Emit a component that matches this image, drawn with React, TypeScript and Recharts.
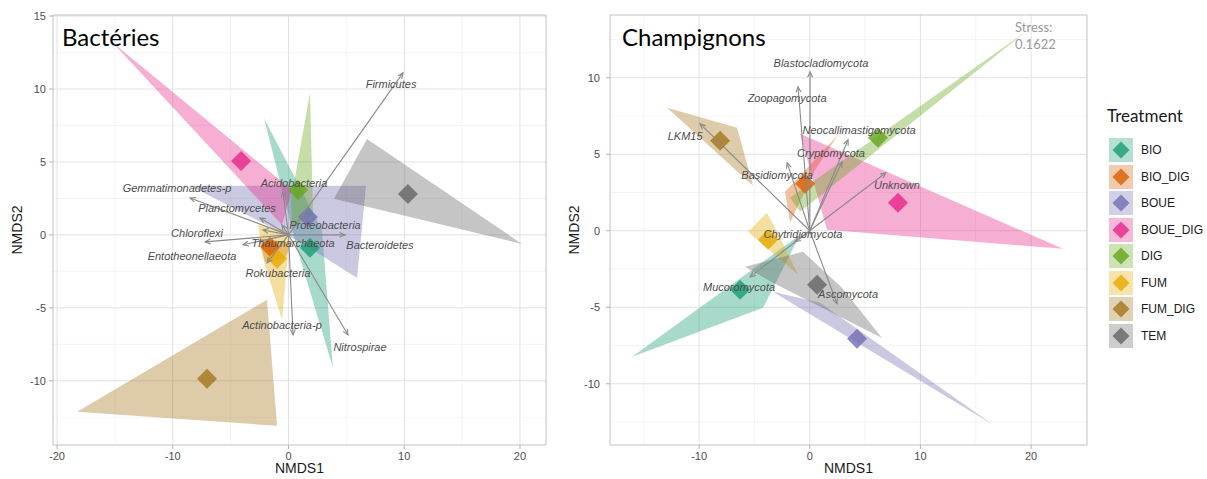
import React from "react";
import {
  ScatterChart,
  Scatter,
  XAxis,
  YAxis,
  CartesianGrid,
  ReferenceArea,
} from "recharts";

type Pt = [number, number];

const treatments = ["BIO", "BIO_DIG", "BOUE", "BOUE_DIG", "DIG", "FUM", "FUM_DIG", "TEM"];
const treatmentColors = ["#1B9E77", "#D95F02", "#7570B3", "#E7298A", "#66A61E", "#E6AB02", "#A6761D", "#666666"];

// Bactéries: hull vertices, in treatment order
const bactHulls: Pt[][] = [
  [[-2.12, 8.01], [2.89, 0.34], [3.84, -9.11], [0.65, -0.68]],
  [[-2.63, -0.21], [0.3, -0.55], [-0.3, -1.58], [-2.03, -1.85]],
  [[-8.51, 3.36], [6.7, 3.36], [5.92, -2.95], [0.99, -0.48]],
  [[-15.16, 13.15], [0.3, 3.08], [-0.56, 0.68]],
  [[1.86, 9.73], [2.12, 1.37], [0.3, 0.48], [0.22, 2.4]],
  [[-2.63, 0.68], [0.13, 0.21], [-0.56, -5.82], [-2.12, -1.85]],
  [[-18.27, -12.12], [-1.86, -4.45], [-0.99, -13.08]],
  [[6.78, 6.58], [20.17, -0.62], [3.93, 2.47]],
];
const bactCentroids: Pt[] = [
  [1.86, -0.89], [-1.6, -0.82], [1.68, 1.23], [-4.1, 5.07],
  [0.82, 3.08], [-0.99, -1.64], [-7.04, -9.86], [10.32, 2.81],
];
const bactTaxa = [
  "Firmicutes", "Acidobacteria", "Gemmatimonadetes-p", "Planctomycetes",
  "Proteobacteria", "Chloroflexi", "Thaumarchaeota", "Bacteroidetes",
  "Entotheonellaeota", "Rokubacteria", "Actinobacteria-p", "Nitrospirae",
];
const bactArrowTips: Pt[] = [
  [9.89, 11.1], [-0.48, 2.95], [-8.51, 2.53], [-2.46, 1.16],
  [-0.56, 0.68], [-7.21, -0.48], [-2.2, 0.34], [4.88, 0],
  [-3.93, -0.68], [-1.86, -1.92], [0.39, -6.85], [5.14, -6.85],
];
const bactLabelPos: Pt[] = [
  [8.86, 10.34], [0.48, 3.56], [-9.63, 3.22], [-4.45, 1.85],
  [3.15, 0.68], [-7.9, 0.14], [0.39, -0.55], [7.9, -0.68],
  [-8.34, -1.44], [-0.91, -2.6], [-0.56, -6.16], [6.18, -7.67],
];

// Champignons
const fungiHulls: Pt[][] = [
  [[-0.88, -0.26], [-4.22, -5.03], [-16.05, -8.24]],
  [[-2.23, 2.55], [2.56, 6.27], [0.48, 3.99], [-1.78, 0.52]],
  [[-3.33, -3.99], [0.93, -4.71], [16.56, -12.68]],
  [[-0.88, 6.34], [22.88, -1.18], [1.56, 0.07]],
  [[-1.78, 2.16], [19.5, 13.0], [-0.88, 1.24]],
  [[-3.88, 1.18], [-2.95, -0.07], [-1.06, -2.88], [-5.57, -0.07]],
  [[-12.89, 8.04], [-6.57, 6.73], [-5.12, 2.94]],
  [[-5.85, -2.35], [-0.61, -1.37], [2.91, -3.73], [6.53, -7.0], [-3.33, -3.4]],
];
const fungiCentroids: Pt[] = [
  [-6.3, -3.86], [-0.42, 3.07], [4.27, -7.06], [7.97, 1.83],
  [6.16, 6.08], [-3.77, -0.59], [-8.1, 5.88], [0.66, -3.53],
];
const fungiTaxa = [
  "Blastocladiomycota", "Zoopagomycota", "LKM15", "Neocallimastigomycota",
  "Cryptomycota", "Basidiomycota", "Unknown", "Chytridiomycota",
  "Mucoromycota", "Ascomycota",
];
const fungiArrowTips: Pt[] = [
  [0.03, 10.39], [-1.06, 9.41], [-9.91, 6.99], [3.46, 5.95],
  [2.92, 4.51], [-2.05, 4.44], [6.88, 3.79], [-1.33, -0.72],
  [-5.39, -3.01], [2.46, -4.77],
];
const fungiLabelPos: Pt[] = [
  [1.01, 10.98], [-2.05, 8.69], [-11.26, 6.21], [4.45, 6.6],
  [1.92, 5.1], [-2.95, 3.66], [7.88, 3.01], [-0.61, -0.2],
  [-6.39, -3.66], [3.46, -4.12],
];

const bactXTicks = [-20, -10, 0, 10, 20];
const bactXMinor = [-15, -5, 5, 15];
const bactYTicks = [-10, -5, 0, 5, 10, 15];
const bactYMinor = [-12.5, -7.5, -2.5, 2.5, 7.5, 12.5];
const fungiXTicks = [-10, 0, 10, 20];
const fungiXMinor = [-15, -5, 5, 15];
const fungiYTicks = [-10, -5, 0, 5, 10];
const fungiYMinor = [-12.5, -7.5, -2.5, 2.5, 7.5, 12.5];

const AXIS_FONT = "'Liberation Sans', Arial, sans-serif";
const TITLE_FONT = "Lato, 'Open Sans', sans-serif";

const toRows = (pts: Pt[]) => pts.map(([x, y]) => ({ x, y }));

const emptyShape = () => <g />;

const polygonLine = (color: string) => (p: any) => {
  const pts = (p.points || []).filter((q: any) => q.x != null && q.y != null);
  if (!pts.length) return <g />;
  const d = pts.map((q: any, i: number) => `${i ? "L" : "M"}${q.x},${q.y}`).join("") + "Z";
  return <path d={d} fill={color} fillOpacity={0.38} stroke="none" />;
};

const arrowLine = (p: any) => {
  const pts = p.points || [];
  if (pts.length < 2) return <g />;
  const a = pts[0];
  const b = pts[1];
  const ang = Math.atan2(b.y - a.y, b.x - a.x);
  const len = 6;
  const spread = 0.42;
  const h1x = b.x - len * Math.cos(ang - spread);
  const h1y = b.y - len * Math.sin(ang - spread);
  const h2x = b.x - len * Math.cos(ang + spread);
  const h2y = b.y - len * Math.sin(ang + spread);
  return (
    <g stroke="#8a8a8a" strokeWidth={1.1} fill="none">
      <line x1={a.x} y1={a.y} x2={b.x} y2={b.y} />
      <polyline points={`${h1x},${h1y} ${b.x},${b.y} ${h2x},${h2y}`} />
    </g>
  );
};

const diamondShape = (p: any) => {
  const i = treatments.indexOf(p.payload.name);
  const r = 10;
  const { cx, cy } = p;
  return (
    <polygon
      points={`${cx},${cy - r} ${cx + r},${cy} ${cx},${cy + r} ${cx - r},${cy}`}
      fill={treatmentColors[i]}
      fillOpacity={0.82}
    />
  );
};

const taxonShape = (p: any) => (
  <text
    x={p.cx}
    y={p.cy}
    textAnchor="middle"
    dominantBaseline="central"
    fontStyle="italic"
    fontSize={11}
    fontFamily={AXIS_FONT}
    fill="#4d4d4d"
  >
    {p.payload.name}
  </text>
);

interface PanelProps {
  width: number;
  yAxisWidth: number;
  yTickMargin: number;
  xDomain: [number, number];
  yDomain: [number, number];
  xTicks: number[];
  xMinor: number[];
  yTicks: number[];
  yMinor: number[];
  hulls: Pt[][];
  centroids: Pt[];
  taxa: string[];
  tips: Pt[];
  labels: Pt[];
}

const NmdsPanel: React.FC<PanelProps> = ({
  width,
  yAxisWidth,
  yTickMargin,
  xDomain,
  yDomain,
  xTicks,
  xMinor,
  yTicks,
  yMinor,
  hulls,
  centroids,
  taxa,
  tips,
  labels,
}) => {
  const tickStyle = { fill: "#4d4d4d", fontSize: 11, fontFamily: AXIS_FONT };
  const centroidRows = centroids.map(([x, y], i) => ({ x, y, name: treatments[i] }));
  const labelRows = labels.map(([x, y], i) => ({ x, y, name: taxa[i] }));

  return (
    <ScatterChart width={width} height={479} margin={{ top: 15, right: 14, bottom: 0, left: 0 }}>
      <CartesianGrid verticalValues={xMinor} horizontalValues={yMinor} stroke="#efefef" strokeWidth={0.7} />
      <CartesianGrid verticalValues={xTicks} horizontalValues={yTicks} stroke="#e2e2e2" strokeWidth={1} />
      <XAxis
        type="number"
        dataKey="x"
        domain={xDomain}
        allowDataOverflow
        ticks={xTicks}
        height={34}
        axisLine={false}
        tickSize={4}
        tickMargin={3}
        tickLine={{ stroke: "#b3b3b3" }}
        tick={tickStyle}
        label={(props: any) => {
          const vb = props.viewBox;
          if (!vb) return null;
          return (
            <text x={vb.x + vb.width / 2} y={vb.y + 28} textAnchor="middle" fontSize={14} fontFamily={AXIS_FONT} fill="#1a1a1a">
              NMDS1
            </text>
          );
        }}
      />
      <YAxis
        type="number"
        dataKey="y"
        domain={yDomain}
        allowDataOverflow
        ticks={yTicks}
        width={yAxisWidth}
        axisLine={false}
        tickSize={4}
        tickMargin={yTickMargin}
        tickLine={{ stroke: "#b3b3b3" }}
        tick={tickStyle}
        label={(props: any) => {
          const vb = props.viewBox;
          if (!vb) return null;
          const x = vb.x + vb.width - 36;
          const y = vb.y + vb.height / 2;
          return (
            <text x={x} y={y} transform={`rotate(-90 ${x} ${y})`} textAnchor="middle" dominantBaseline="central" fontSize={14} fontFamily={AXIS_FONT} fill="#1a1a1a">
              NMDS2
            </text>
          );
        }}
      />
      {hulls.map((h, i) => (
        <Scatter
          key={`hull-${treatments[i]}`}
          data={toRows(h)}
          line={polygonLine(treatmentColors[i])}
          lineType="joint"
          shape={emptyShape}
          isAnimationActive={false}
        />
      ))}
      <Scatter data={centroidRows} shape={diamondShape} isAnimationActive={false} />
      {tips.map((t, i) => (
        <Scatter
          key={`arrow-${taxa[i]}`}
          data={toRows([[0, 0], t])}
          line={arrowLine}
          lineType="joint"
          shape={emptyShape}
          isAnimationActive={false}
        />
      ))}
      <Scatter data={labelRows} shape={taxonShape} isAnimationActive={false} />
      <ReferenceArea
        x1={xDomain[0]}
        x2={xDomain[1]}
        y1={yDomain[0]}
        y2={yDomain[1]}
        fill="none"
        stroke="#c2c2c2"
        strokeWidth={1}
        ifOverflow="visible"
      />
    </ScatterChart>
  );
};

const LegendBox: React.FC = () => (
  <div style={{ position: "absolute", left: 1107, top: 104 }}>
    <div style={{ fontFamily: TITLE_FONT, fontSize: 17, color: "#1a1a1a", lineHeight: "24px", marginBottom: 9 }}>
      Treatment
    </div>
    {treatments.map((t, i) => (
      <div key={t} style={{ display: "flex", alignItems: "center", height: 26.5 }}>
        <svg width={26} height={26} style={{ display: "block" }}>
          <rect x={2} y={1} width={24} height={24} fill={treatmentColors[i]} fillOpacity={0.33} />
          <polygon points="14,4.5 22.5,13 14,21.5 5.5,13" fill={treatmentColors[i]} fillOpacity={0.82} />
        </svg>
        <span style={{ marginLeft: 8, fontFamily: AXIS_FONT, fontSize: 12, color: "#1a1a1a" }}>{t}</span>
      </div>
    ))}
  </div>
);

export default function App() {
  return (
    <div style={{ position: "absolute", left: 0, top: 0, width: 1207, height: 479, background: "#fff", overflow: "hidden" }}>
      <div style={{ position: "absolute", left: 0, top: 0 }}>
        <NmdsPanel
          width={560}
          yAxisWidth={53}
          yTickMargin={3}
          xDomain={[-20.35, 22.25]}
          yDomain={[-14.4, 15.07]}
          xTicks={bactXTicks}
          xMinor={bactXMinor}
          yTicks={bactYTicks}
          yMinor={bactYMinor}
          hulls={bactHulls}
          centroids={bactCentroids}
          taxa={bactTaxa}
          tips={bactArrowTips}
          labels={bactLabelPos}
        />
      </div>
      <div style={{ position: "absolute", left: 560, top: 0 }}>
        <NmdsPanel
          width={541}
          yAxisWidth={50}
          yTickMargin={6}
          xDomain={[-18.05, 25.05]}
          yDomain={[-14.0, 14.1]}
          xTicks={fungiXTicks}
          xMinor={fungiXMinor}
          yTicks={fungiYTicks}
          yMinor={fungiYMinor}
          hulls={fungiHulls}
          centroids={fungiCentroids}
          taxa={fungiTaxa}
          tips={fungiArrowTips}
          labels={fungiLabelPos}
        />
      </div>
      <div style={{ position: "absolute", left: 62, top: 22, fontFamily: TITLE_FONT, fontSize: 24, lineHeight: "30px", color: "#000" }}>
        Bactéries
      </div>
      <div style={{ position: "absolute", left: 622, top: 22, fontFamily: TITLE_FONT, fontSize: 24, lineHeight: "30px", color: "#000" }}>
        Champignons
      </div>
      <div style={{ position: "absolute", left: 1015, top: 19, fontFamily: TITLE_FONT, fontSize: 13, lineHeight: "17px", color: "#9a9a9a" }}>
        Stress:
        <br />
        0.1622
      </div>
      <LegendBox />
    </div>
  );
}
